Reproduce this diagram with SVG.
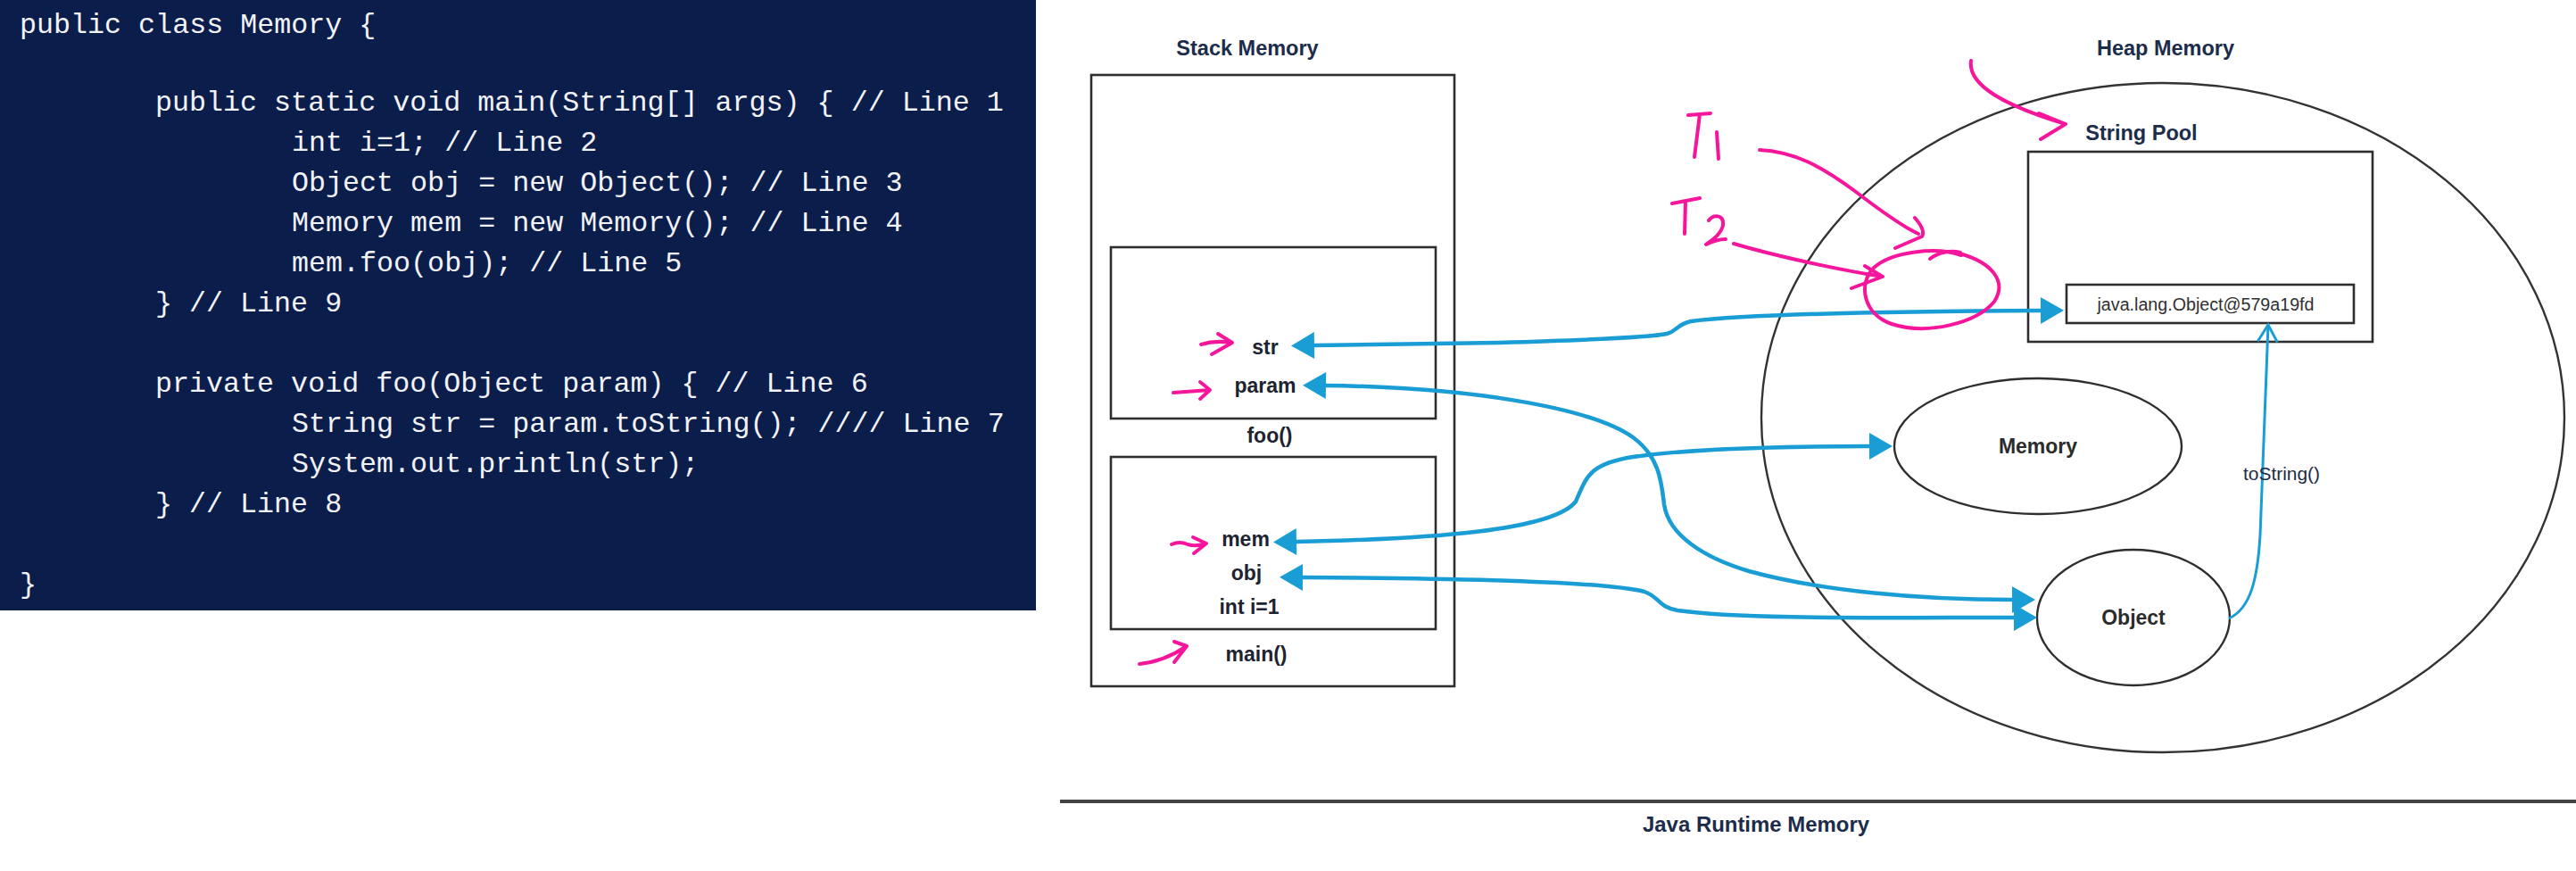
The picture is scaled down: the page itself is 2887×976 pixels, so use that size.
<svg xmlns="http://www.w3.org/2000/svg" width="2887" height="976" viewBox="0 0 2887 976">
<style>
.code{font-family:"Liberation Mono","DejaVu Sans Mono",monospace;font-size:31.7px;fill:#f2f3f6}
.lbl{font-family:"Liberation Sans",Arial,sans-serif;font-weight:bold;font-size:23px;fill:#1d2330;text-anchor:middle}
.ttl{font-family:"Liberation Sans",Arial,sans-serif;font-weight:bold;font-size:23.5px;fill:#1c2c4a;text-anchor:middle}
.obj{font-family:"Liberation Sans",Arial,sans-serif;font-weight:bold;font-size:23px;fill:#2b2b2b;text-anchor:middle}
.box{fill:none;stroke:#2e2e2e;stroke-width:2.6}
.conn{fill:none;stroke:#1a9dd5;stroke-width:4.5;stroke-linecap:round}
.pink{fill:none;stroke:#f5169c;stroke-width:4;stroke-linecap:round;stroke-linejoin:round}
</style>
<defs>
<marker id="tri" markerUnits="userSpaceOnUse" markerWidth="30" markerHeight="32" refX="0" refY="15" orient="auto-start-reverse" overflow="visible">
<path d="M0,0 L26,15 L0,30 z" fill="#1a9dd5"/>
</marker>
<marker id="chev" markerUnits="userSpaceOnUse" markerWidth="30" markerHeight="30" refX="19" refY="15" orient="auto" overflow="visible">
<path d="M0,4 L19,15 L0,26" fill="none" stroke="#1a9dd5" stroke-width="3"/>
</marker>
</defs>
<rect width="2887" height="976" fill="#ffffff"/>

<g id="code-panel">
<rect x="0" y="0" width="1161" height="684" fill="#0b1d4b"/>
<text class="code" x="22" y="37">public class Memory {</text>
<text class="code" x="174" y="124">public static void main(String[] args) { // Line 1</text>
<text class="code" x="327" y="169">int i=1; // Line 2</text>
<text class="code" x="327" y="214">Object obj = new Object(); // Line 3</text>
<text class="code" x="327" y="259">Memory mem = new Memory(); // Line 4</text>
<text class="code" x="327" y="304">mem.foo(obj); // Line 5</text>
<text class="code" x="174" y="349">} // Line 9</text>
<text class="code" x="174" y="439">private void foo(Object param) { // Line 6</text>
<text class="code" x="327" y="484">String str = param.toString(); //// Line 7</text>
<text class="code" x="327" y="529">System.out.println(str);</text>
<text class="code" x="174" y="574">} // Line 8</text>
<text class="code" x="22" y="664">}</text>
</g>

<g id="stack-memory">
<text class="ttl" x="1398" y="62">Stack Memory</text>
<rect class="box" x="1223" y="84" width="407" height="685"/>
</g>
<g id="foo-frame">
<rect class="box" x="1245" y="277" width="364" height="192"/>
<text class="lbl" x="1418" y="397">str</text>
<text class="lbl" x="1418" y="440">param</text>
<text class="lbl" x="1423" y="496">foo()</text>
</g>
<g id="main-frame">
<rect class="box" x="1245" y="512" width="364" height="193"/>
<text class="lbl" x="1396" y="612">mem</text>
<text class="lbl" x="1397" y="650">obj</text>
<text class="lbl" x="1400" y="688">int i=1</text>
<text class="lbl" x="1408" y="741">main()</text>
</g>

<g id="heap-memory">
<text class="ttl" x="2427" y="62">Heap Memory</text>
<ellipse cx="2424" cy="468" rx="450" ry="375" fill="none" stroke="#333" stroke-width="2.4"/>
</g>
<g id="string-pool">
<text class="ttl" x="2400" y="157">String Pool</text>
<rect class="box" x="2273" y="170" width="386" height="213"/>
</g>
<g id="java-string">
<rect class="box" x="2316" y="319" width="322" height="43"/>
<text x="2472" y="348" font-family="Liberation Sans, Arial, sans-serif" font-size="20" fill="#303030" text-anchor="middle" textLength="243" lengthAdjust="spacingAndGlyphs">java.lang.Object@579a19fd</text>
</g>
<g id="memory-obj">
<ellipse cx="2284" cy="500" rx="161" ry="76" fill="none" stroke="#2e2e2e" stroke-width="2.4"/>
<text class="obj" x="2284" y="508">Memory</text>
</g>
<g id="object-obj">
<ellipse cx="2391" cy="692" rx="108" ry="76" fill="none" stroke="#2e2e2e" stroke-width="2.4"/>
<text class="obj" x="2391" y="700">Object</text>
</g>

<g id="connectors">
<path class="conn" marker-start="url(#tri)" marker-end="url(#tri)" d="M1473,387 L1680,384 C1780,381 1850,378 1868,374 C1880,371 1878,364 1895,360 C1960,352 2100,349 2287,348"/>
<path class="conn" marker-start="url(#tri)" marker-end="url(#tri)" d="M1486,432 C1640,434 1780,455 1830,490 C1860,512 1862,540 1865,565 C1870,600 1910,625 1960,640 C2040,662 2150,672 2255,672"/>
<path class="conn" marker-start="url(#tri)" marker-end="url(#tri)" d="M1453,607 C1600,604 1740,595 1766,562 C1778,535 1780,520 1830,512 C1900,502 2000,500 2095,500"/>
<path class="conn" marker-start="url(#tri)" marker-end="url(#tri)" d="M1460,647 C1650,648 1800,652 1843,663 C1860,669 1858,680 1880,684 C1950,694 2100,692 2257,692"/>
<path fill="none" stroke="#1a9dd5" stroke-width="3" marker-end="url(#chev)" d="M2498,693 C2522,682 2530,650 2533,600 L2542,364"/>
<text x="2557" y="538" font-family="Liberation Sans, Arial, sans-serif" font-size="20" fill="#1d2b45" text-anchor="middle" textLength="86" lengthAdjust="spacingAndGlyphs">toString()</text>
</g>

<g id="runtime-label">
<line x1="1188" y1="898" x2="2887" y2="898" stroke="#444" stroke-width="4"/>
<text x="1968" y="932" font-family="Liberation Sans, Arial, sans-serif" font-weight="bold" font-size="23" fill="#1c2c4a" text-anchor="middle" textLength="254" lengthAdjust="spacingAndGlyphs">Java Runtime Memory</text>
</g>

<g id="annotations">
<path class="pink" d="M1346,386 Q1362,381 1380,384 M1365,374 L1381,384 L1358,397"/>
<path class="pink" d="M1315,440 L1356,437 M1345,428 L1356,437 L1345,447"/>
<path class="pink" d="M1313,610 Q1322,606 1331,610 Q1341,613 1352,609 M1337,602 L1352,609 L1338,620"/>
<path class="pink" d="M1277,744 Q1305,741 1330,724 M1316,719 L1330,724 L1316,742"/>
<path class="pink" d="M1892,129 L1917,127 M1905,128 L1899,176 M1924,148 L1926,178"/>
<path class="pink" d="M1972,168 C2010,170 2040,185 2080,215 C2110,238 2135,255 2150,262 M2146,244 C2153,252 2157,260 2154,265 L2124,278"/>
<path class="pink" d="M1874,228 L1905,222 M1889,226 L1888,262 M1915,247 C1920,240 1932,240 1931,252 C1930,262 1915,272 1912,274 C1920,270 1928,268 1934,268"/>
<path class="pink" d="M1943,273 C1990,287 2060,302 2110,310 M2090,298 L2110,310 L2075,323"/>
<path class="pink" d="M2198,286 C2170,276 2120,282 2100,300 C2082,318 2088,352 2120,363 C2160,376 2215,362 2235,338 C2250,315 2232,294 2196,284 M2163,290 C2172,283 2185,280 2197,283"/>
<path class="pink" d="M2209,68 C2205,95 2245,118 2315,139 M2285,127 L2315,139 L2287,156"/>
</g>
</svg>
